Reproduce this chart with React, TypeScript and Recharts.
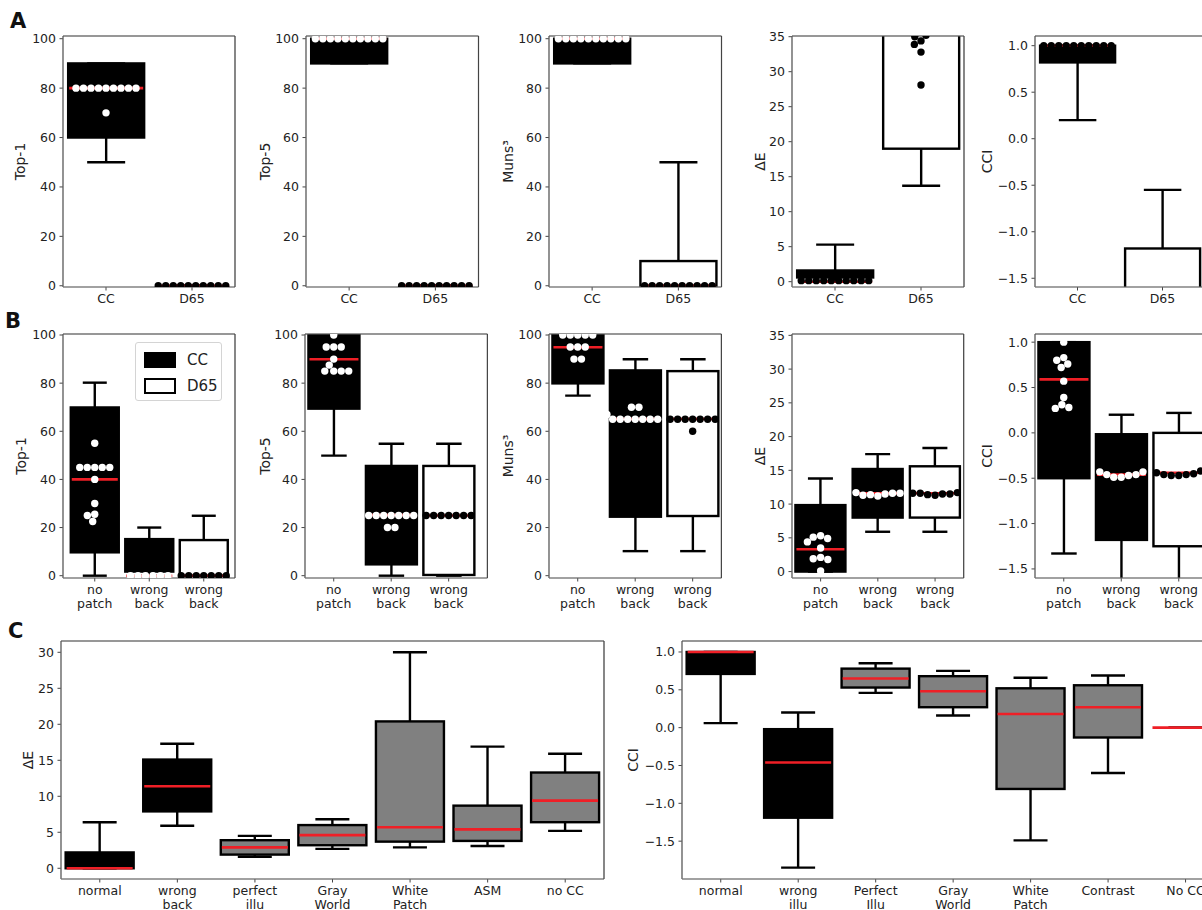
import React from "react";
import {
  Bar,
  CartesianGrid,
  ComposedChart,
  Legend,
  Scatter,
  XAxis,
  YAxis,
} from "recharts";

// categories
const rowACats = ["CC", "D65"];
const rowBCats = ["no\npatch", "wrong\nback", "wrong\nback"];
const cDeltaCats = ["normal", "wrong\nback", "perfect\nillu", "Gray\nWorld", "White\nPatch", "ASM", "no CC"];
const cCciCats = ["normal", "wrong\nillu", "Perfect\nIllu", "Gray\nWorld", "White\nPatch", "Contrast", "No CC"];
const legendNames = ["CC", "D65"];

// tick values
const pctTicks = [0, 20, 40, 60, 80, 100];
const deTicks = [0, 5, 10, 15, 20, 25, 30, 35];
const deTicksC = [0, 5, 10, 15, 20, 25, 30];
const cciTicks = [-1.5, -1, -0.5, 0, 0.5, 1];

// box stats per category: [lower whisker, q1, median, q3, upper whisker]
const a1Stats = [[50, 60, 80, 90, 90], [0, 0, 0, 0, 0]];
const a2Stats = [[90, 90, 100, 100, 100], [0, 0, 0, 0, 0]];
const a3Stats = [[90, 90, 100, 100, 100], [0, 0, 0, 10, 50]];
const a4Stats = [[0, 0.6, 0, 1.6, 5.3], [13.7, 19, 38, 44, 58]];
const a5Stats = [[0.2, 0.82, 1, 1, 1], [-2.6, -2.1, -1.8, -1.18, -0.55]];

const b1Stats = [[0, 9.7, 40, 69.9, 80.2], [0, 1.7, 0, 15.2, 20], [0, 0, 0, 14.8, 24.9]];
const b2Stats = [[49.9, 69.4, 89.9, 100, 100], [0, 4.7, 25.2, 45.6, 54.8], [0, 0.3, 25, 45.6, 54.8]];
const b3Stats = [[74.8, 79.9, 94.9, 100, 100], [10.2, 24.5, 65.1, 85.3, 89.9], [10.2, 24.8, 65.1, 85, 89.9]];
const b4Stats = [[0, 0, 3.3, 9.85, 13.8], [5.9, 8, 11.6, 15.2, 17.4], [5.9, 8, 11.6, 15.6, 18.3]];
const b5Stats = [[-1.33, -0.5, 0.59, 1, 1], [-2, -1.18, -0.46, -0.015, 0.2], [-2, -1.25, -0.44, 0, 0.22]];

const c1Stats = [
  [0, 0, 0, 2.2, 6.4],
  [5.9, 7.9, 11.4, 15.1, 17.3],
  [1.6, 1.9, 2.9, 3.9, 4.5],
  [2.7, 3.2, 4.6, 6.0, 6.8],
  [2.9, 3.7, 5.7, 20.4, 30.0],
  [3.1, 3.8, 5.4, 8.7, 16.9],
  [5.2, 6.4, 9.4, 13.3, 15.9],
];
const c2Stats = [
  [0.06, 0.71, 1, 1, 1],
  [-1.85, -1.19, -0.46, -0.02, 0.2],
  [0.46, 0.53, 0.65, 0.78, 0.85],
  [0.16, 0.27, 0.48, 0.68, 0.75],
  [-1.49, -0.81, 0.18, 0.52, 0.66],
  [-0.6, -0.13, 0.27, 0.56, 0.69],
  [0, 0, 0, 0, 0],
];

// individual observations (swarm dots)
const a1Dots = [[80, 80, 80, 80, 80, 80, 80, 80, 80, 70], [0, 0, 0, 0, 0, 0, 0, 0, 0, 0]];
const a2Dots = [[100, 100, 100, 100, 100, 100, 100, 100, 100, 100], [0, 0, 0, 0, 0, 0, 0, 0, 0, 0]];
const a3Dots = [[100, 100, 100, 100, 100, 100, 100, 100, 100, 100], [0, 0, 0, 0, 0, 0, 0, 0, 0, 0]];
const a4Dots = [
  [0.15, 0.15, 0.15, 0.15, 0.15, 0.15, 0.15, 0.15, 0.15, 0.15],
  [28.1, 32.8, 34.4, 33.9, 35.0, 35.2, 36.4, 37.8, 39.5, 41],
];
const a5Dots = [
  [1, 1, 1, 1, 1, 1, 1, 1, 1, 1],
  [-1.7, -1.75, -1.8, -1.85, -1.9, -2.0, -2.1, -2.2, -2.4, -2.6],
];

const b1Dots = [
  [55, 45, 45, 45, 45, 45, 40, 30, 25.5, 25, 22.5],
  [0, 0, 0, 0, 0, 0],
  [0, 0, 0, 0, 0, 0, 0],
];
const b2Dots = [
  [100, 95, 95, 95, 90, 87.5, 85, 85, 85, 85],
  [25, 25, 25, 25, 25, 25, 25, 20, 20],
  [25, 25, 25, 25, 25, 25, 25],
];
const b3Dots = [
  [100, 100, 100, 100, 100, 95, 95, 95, 90, 90],
  [65, 65, 65, 65, 65, 65, 65, 70, 70, 67],
  [65, 65, 65, 65, 65, 65, 65, 60],
];
const b4Dots = [
  [5.3, 5.1, 4.9, 3.5, 2.1, 1.9, 1.8, 0.1, 4.4],
  [11.2, 11.4, 11.5, 11.6, 11.3, 11.7, 11.6],
  [11.3, 11.4, 11.5, 11.6, 11.5, 11.6, 11.7],
];
const b5Dots = [
  [1, 0.83, 0.8, 0.76, 0.72, 0.57, 0.39, 0.31, 0.28, 0.27],
  [-0.49, -0.49, -0.47, -0.46, -0.46, -0.43, -0.43],
  [-0.47, -0.47, -0.46, -0.46, -0.45, -0.44, -0.42],
];

const BLACK = "#000";
const WHITE = "#fff";
const GRAY = "#808080";
const RED = "#ef1f26";
const AXIS = "#444";
const FONT = "'DejaVu Sans', sans-serif";
const legendFills = [BLACK, WHITE];

const pctFmt = (v: number) => String(v);
const cciFmt = (v: number) => v.toFixed(1).replace("-", "\u2212");

const Whisker = (props: any) => {
  const { x, y, width, height } = props;
  if (x == null || y == null) return null;
  const cx = x + width / 2;
  const cw = width * 0.25;
  return (
    <g stroke={BLACK} strokeWidth={2.4}>
      <line x1={cx} x2={cx} y1={y} y2={y + height} />
      <line x1={cx - cw} x2={cx + cw} y1={y} y2={y} />
      <line x1={cx - cw} x2={cx + cw} y1={y + height} y2={y + height} />
    </g>
  );
};

const BoxShape = (props: any) => {
  const { x, y, width, height, payload } = props;
  if (x == null || y == null) return null;
  return (
    <rect
      x={x}
      y={y}
      width={width}
      height={Math.max(height, 0)}
      fill={payload.tone}
      stroke={BLACK}
      strokeWidth={2.4}
    />
  );
};

const Median = (props: any) => {
  const { x, y, width } = props;
  if (x == null || y == null) return null;
  return <line x1={x + 1} x2={x + width - 1} y1={y} y2={y} stroke={RED} strokeWidth={2.6} />;
};

const Dot = (props: any) => (
  <circle cx={props.cx} cy={props.cy} r={3.7} fill={props.payload.color} />
);

const CatTick = (props: any) => {
  const { x, y, payload } = props;
  const lines = String(payload.value).split("\n");
  return (
    <text x={x} y={y} textAnchor="middle" fontSize={12.5} fill="#222">
      {lines.map((l, i) => (
        <tspan key={i} x={x} dy={i === 0 ? "0.7em" : "1.12em"}>
          {l}
        </tspan>
      ))}
    </text>
  );
};

// top and right spines: edges of the plot area that recharts reports
const topEdge = ({ offset }: any) => [offset.top];
const rightEdge = ({ offset }: any) => [offset.left + offset.width];

// beeswarm: each dot goes to the free spot closest to the centre
function swarm(vals: number[], pxPerUnit: number, d: number) {
  const placed: { x: number; y: number }[] = [];
  for (const v of vals) {
    const y = v * pxPerUnit;
    const cands = [0];
    for (const q of placed) {
      const dy = Math.abs(q.y - y);
      if (dy < d) {
        const dx = Math.sqrt(d * d - dy * dy);
        cands.push(q.x + dx, q.x - dx);
      }
    }
    cands.sort((a, b) => Math.abs(a) - Math.abs(b) || a - b);
    const free = (c: number) =>
      placed.every((q) => (q.x - c) ** 2 + (q.y - y) ** 2 >= d * d - 0.01);
    placed.push({ x: cands.find(free) ?? 0, y });
  }
  const groups = new Map<number, number[]>();
  vals.forEach((v, i) => groups.set(v, [...(groups.get(v) ?? []), i]));
  groups.forEach((idx) => {
    if (idx.length < 2) return;
    const m = idx.reduce((s, i) => s + placed[i].x, 0) / idx.length;
    const ok = idx.every((i) =>
      placed.every(
        (q, j) =>
          idx.includes(j) ||
          (q.x - (placed[i].x - m)) ** 2 + (q.y - placed[i].y) ** 2 >= d * d - 0.01
      )
    );
    if (ok) idx.forEach((i) => (placed[i].x -= m));
  });
  return placed.map((q) => q.x);
}

const LegendBox = () => (
  <div
    style={{
      width: 87,
      height: 59,
      boxSizing: "border-box",
      border: "1px solid #d4d4d4",
      borderRadius: 3,
      background: "#fff",
      padding: "4px 0 0 8px",
      fontSize: 15,
      fontFamily: FONT,
      color: "#222",
    }}
  >
    {legendNames.map((nm, i) => (
      <div key={nm} style={{ display: "flex", alignItems: "center", height: 26 }}>
        <span
          style={{
            width: 32,
            height: 16,
            boxSizing: "border-box",
            background: legendFills[i],
            border: `2.4px solid ${BLACK}`,
          }}
        />
        <span style={{ marginLeft: 11 }}>{nm}</span>
      </div>
    ))}
  </div>
);

type PanelProps = {
  x: number;
  y: number;
  w: number;
  h: number;
  padL?: number;
  padR?: number;
  domain: [number, number];
  ticks: number[];
  fmt: (v: number) => string;
  yLabel: string;
  labelX: number;
  cats: string[];
  stats: number[][];
  fills: string[];
  dots?: number[][];
  dotColors?: string[];
  legend?: boolean;
};

const YW = 62;
const MT = 10;
const MR = 10;
const XH = 42;

function BoxPanel(p: PanelProps) {
  const n = p.cats.length;
  const padL = p.padL ?? 0;
  const padR = p.padR ?? 0;
  const pad = { left: padL, right: padR };
  const rows = p.cats.map((name, i) => {
    const [lo, q1, med, q3, hi] = p.stats[i];
    return { name, whisker: [lo, hi], box: [q1, q3], med: [med, med], tone: p.fills[i] };
  });
  const pxPerUnit = p.h / (p.domain[1] - p.domain[0]);
  const band = (p.w - padL - padR) / n;
  const dots: { x: number; y: number; color: string }[] = [];
  (p.dots ?? []).forEach((vals, i) => {
    const offs = swarm(vals, pxPerUnit, 7.5);
    vals.forEach((v, k) =>
      dots.push({ x: i + offs[k] / band, y: v, color: (p.dotColors ?? [])[i] ?? BLACK })
    );
  });
  const catIdx = p.cats.map((_, i) => i);
  const chartLeft = p.x - YW;
  const W = p.w + YW + MR;
  const H = p.h + MT + XH;
  const margin = { top: MT, right: MR, bottom: 0, left: 0 };
  return (
    <div style={{ position: "absolute", left: chartLeft, top: p.y - MT, width: W, height: H }}>
      {/* boxes, whiskers, medians and axes */}
      <ComposedChart width={W} height={H} data={rows} margin={margin} barCategoryGap="6%">
        <XAxis
          dataKey="name"
          height={XH}
          padding={pad}
          interval={0}
          tick={<CatTick />}
          tickSize={3.5}
          tickMargin={3.5}
          axisLine={{ stroke: AXIS, strokeWidth: 1.2 }}
          tickLine={{ stroke: AXIS }}
        />
        <XAxis xAxisId="box" dataKey="name" hide padding={pad} />
        <XAxis xAxisId="med" dataKey="name" hide padding={pad} />
        <YAxis
          type="number"
          width={YW}
          domain={p.domain}
          allowDataOverflow
          ticks={p.ticks}
          interval={0}
          tickFormatter={p.fmt}
          tickSize={3.5}
          tickMargin={3.5}
          tick={{ fontSize: 12.5, fill: "#222" }}
          axisLine={{ stroke: AXIS, strokeWidth: 1.2 }}
          tickLine={{ stroke: AXIS }}
          label={{
            value: p.yLabel,
            angle: -90,
            position: "insideLeft",
            offset: p.labelX - chartLeft,
            style: { textAnchor: "middle", fontSize: 14, fill: "#222" },
          }}
        />
        <Bar dataKey="whisker" shape={Whisker} isAnimationActive={false} />
        <Bar xAxisId="box" dataKey="box" shape={BoxShape} isAnimationActive={false} />
        <Bar xAxisId="med" dataKey="med" shape={Median} isAnimationActive={false} />
      </ComposedChart>
      {/* grid, top/right spines and dots drawn over the boxes */}
      <ComposedChart
        width={W}
        height={H}
        data={rows}
        margin={margin}
        style={{ position: "absolute", left: 0, top: 0 }}
      >
        <XAxis
          type="number"
          dataKey="x"
          domain={[-0.5, n - 0.5]}
          ticks={catIdx}
          interval={0}
          height={XH}
          padding={pad}
          allowDataOverflow
          tick={false}
          tickLine={false}
          axisLine={false}
        />
        <YAxis
          type="number"
          width={YW}
          domain={p.domain}
          allowDataOverflow
          ticks={p.ticks}
          interval={0}
          tick={false}
          tickLine={false}
          axisLine={false}
        />
        <CartesianGrid stroke="#a0a0a0" strokeOpacity={0.45} />
        <CartesianGrid
          stroke={AXIS}
          strokeWidth={1.2}
          horizontalCoordinatesGenerator={topEdge}
          verticalCoordinatesGenerator={rightEdge}
        />
        {dots.length > 0 && (
          <Scatter data={dots} dataKey="y" shape={Dot} isAnimationActive={false} />
        )}
        {p.legend && (
          <Legend
            layout="horizontal"
            verticalAlign="middle"
            align="center"
            wrapperStyle={{ left: 134, top: 18, width: 87, height: 59 }}
            content={() => <LegendBox />}
          />
        )}
      </ComposedChart>
    </div>
  );
}

const rowAFills = [BLACK, WHITE];
const rowBFills = [BLACK, BLACK, WHITE];
const rowCFills = [BLACK, BLACK, GRAY, GRAY, GRAY, GRAY, GRAY];
const whiteOnBlack = [WHITE, BLACK];
const whiteOnBlackB = [WHITE, WHITE, BLACK];

const panels: PanelProps[] = [
  { x: 63, y: 36, w: 172, h: 251, domain: [-0.5, 101.1], ticks: pctTicks, fmt: pctFmt, yLabel: "Top-1", labelX: 20, cats: rowACats, stats: a1Stats, fills: rowAFills, dots: a1Dots, dotColors: whiteOnBlack },
  { x: 306, y: 36, w: 172.5, h: 251, domain: [-0.5, 101.1], ticks: pctTicks, fmt: pctFmt, yLabel: "Top-5", labelX: 265, cats: rowACats, stats: a2Stats, fills: rowAFills, dots: a2Dots, dotColors: whiteOnBlack },
  { x: 549, y: 36, w: 172.5, h: 251, domain: [-0.5, 101.1], ticks: pctTicks, fmt: pctFmt, yLabel: "Muns\u00b3", labelX: 508, cats: rowACats, stats: a3Stats, fills: rowAFills, dots: a3Dots, dotColors: whiteOnBlack },
  { x: 792, y: 36, w: 172, h: 251, domain: [-0.76, 35.1], ticks: deTicks, fmt: pctFmt, yLabel: "\u0394E", labelX: 760, cats: rowACats, stats: a4Stats, fills: rowAFills, dots: a4Dots, dotColors: [BLACK, BLACK] },
  { x: 1035, y: 36, w: 170, h: 251, domain: [-1.594, 1.104], ticks: cciTicks, fmt: cciFmt, yLabel: "CCI", labelX: 987, cats: rowACats, stats: a5Stats, fills: rowAFills, dots: a5Dots, dotColors: [BLACK, BLACK] },

  { x: 63, y: 334, w: 172, h: 244, padL: 4.5, padR: 4, domain: [-0.96, 100.42], ticks: pctTicks, fmt: pctFmt, yLabel: "Top-1", labelX: 21, cats: rowBCats, stats: b1Stats, fills: rowBFills, dots: b1Dots, dotColors: whiteOnBlackB, legend: true },
  { x: 305.3, y: 334, w: 182.4, h: 244, padR: 10, domain: [-0.96, 100.42], ticks: pctTicks, fmt: pctFmt, yLabel: "Top-5", labelX: 265, cats: rowBCats, stats: b2Stats, fills: rowBFills, dots: b2Dots, dotColors: whiteOnBlackB },
  { x: 549.3, y: 334, w: 172.4, h: 244, domain: [-0.96, 100.42], ticks: pctTicks, fmt: pctFmt, yLabel: "Muns\u00b3", labelX: 508, cats: rowBCats, stats: b3Stats, fills: rowBFills, dots: b3Dots, dotColors: whiteOnBlackB },
  { x: 792.3, y: 334, w: 171.7, h: 244, domain: [-0.95, 35.2], ticks: deTicks, fmt: pctFmt, yLabel: "\u0394E", labelX: 760, cats: rowBCats, stats: b4Stats, fills: rowBFills, dots: b4Dots, dotColors: whiteOnBlackB },
  { x: 1035, y: 334, w: 172.5, h: 244, domain: [-1.6, 1.09], ticks: cciTicks, fmt: cciFmt, yLabel: "CCI", labelX: 987, cats: rowBCats, stats: b5Stats, fills: rowBFills, dots: b5Dots, dotColors: whiteOnBlackB },

  { x: 61, y: 641, w: 543, h: 238, domain: [-1.49, 31.57], ticks: deTicksC, fmt: pctFmt, yLabel: "\u0394E", labelX: 28, cats: cDeltaCats, stats: c1Stats, fills: rowCFills },
  { x: 681.7, y: 641, w: 542.3, h: 238, domain: [-2.0, 1.145], ticks: cciTicks, fmt: cciFmt, yLabel: "CCI", labelX: 633, cats: cCciCats, stats: c2Stats, fills: rowCFills },
];

const letters = [
  { t: "A", x: 10, y: 11 },
  { t: "B", x: 5, y: 311 },
  { t: "C", x: 8, y: 621 },
];

export default function App() {
  return (
    <div
      style={{
        position: "absolute",
        left: 0,
        top: 0,
        width: 1202,
        height: 910,
        overflow: "hidden",
        background: "#fff",
        fontFamily: FONT,
      }}
    >
      {panels.map((p, i) => (
        <BoxPanel key={i} {...p} />
      ))}
      {letters.map((l) => (
        <div
          key={l.t}
          style={{
            position: "absolute",
            left: l.x,
            top: l.y,
            fontSize: 21,
            fontWeight: "bold",
            lineHeight: 1,
            color: "#111",
          }}
        >
          {l.t}
        </div>
      ))}
    </div>
  );
}
